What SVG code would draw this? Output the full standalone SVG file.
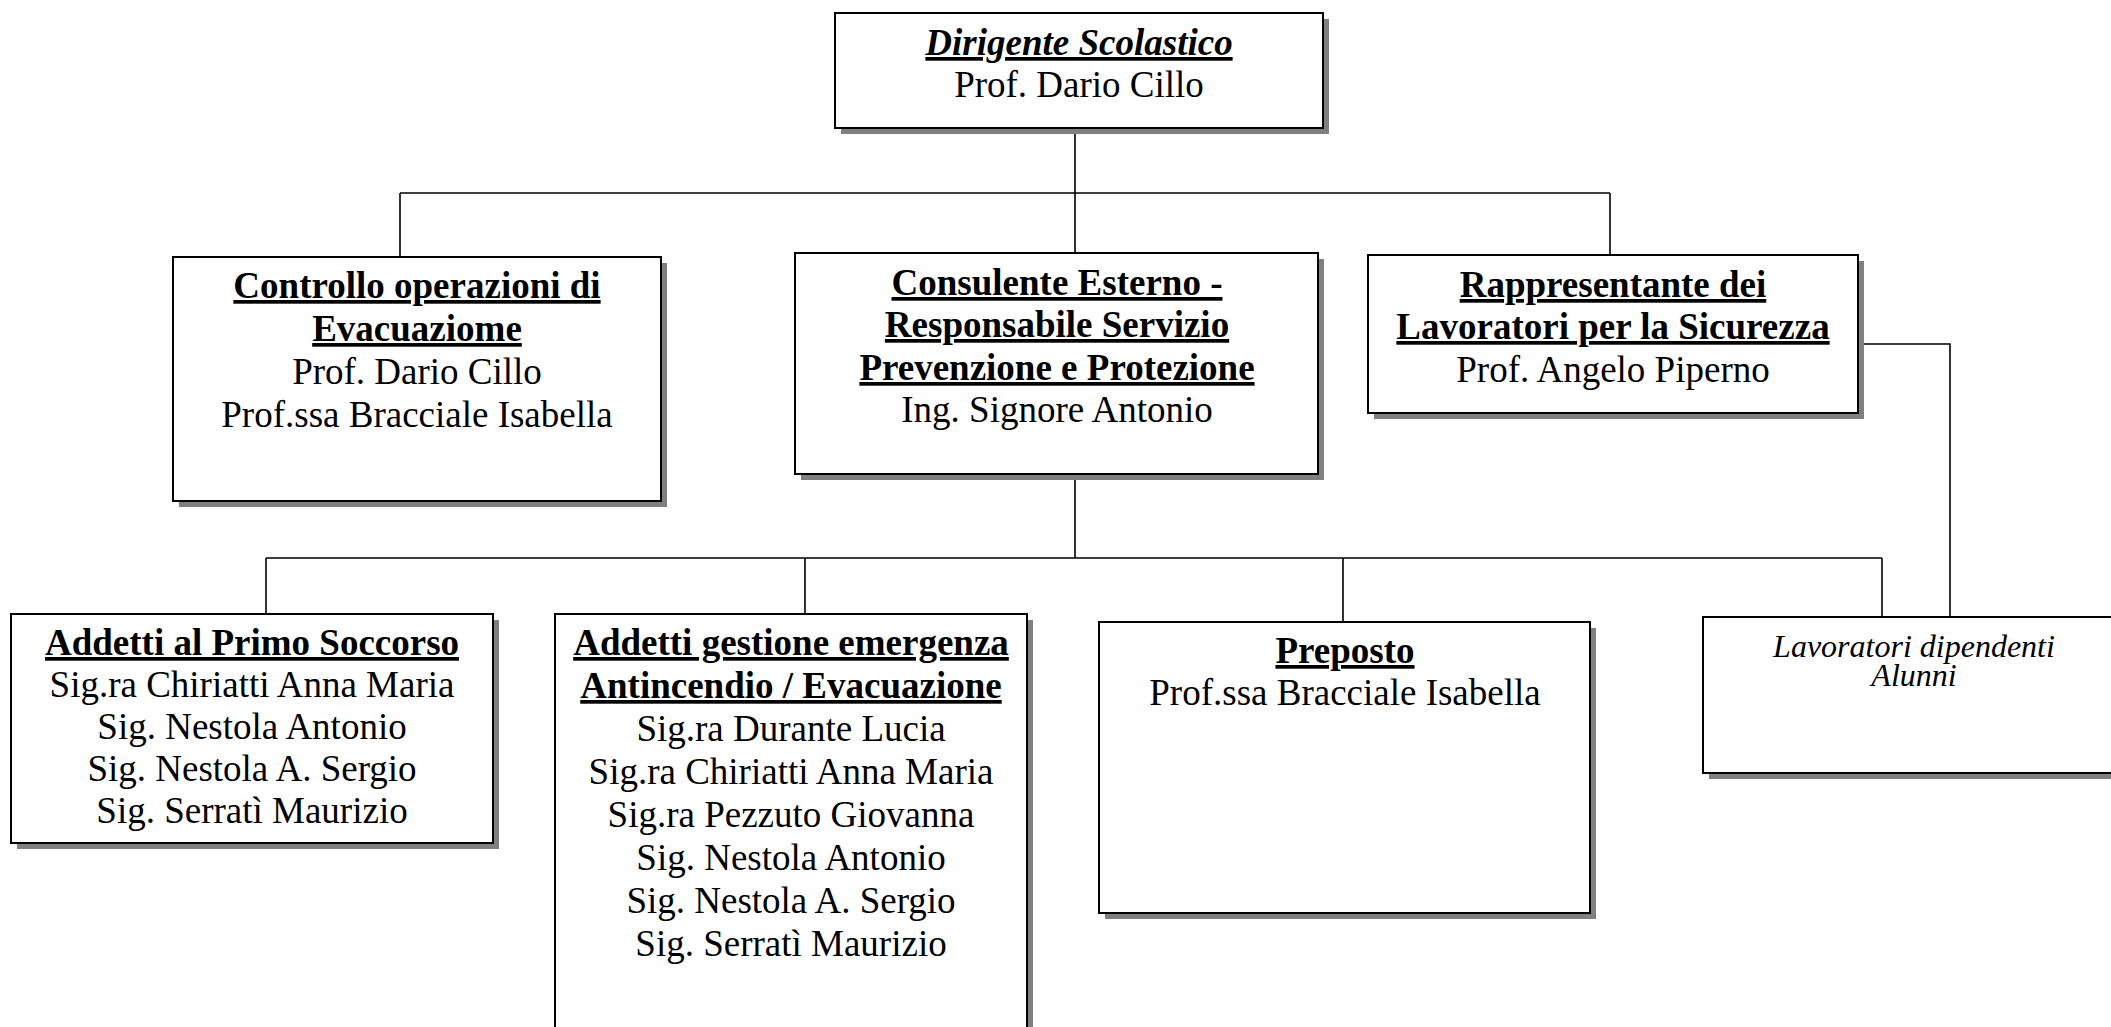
<svg xmlns="http://www.w3.org/2000/svg" width="2111" height="1027" viewBox="0 0 2111 1027">
<style>
.box{fill:#fff;stroke:#000;stroke-width:2}
.sh{fill:#808080}
.con{fill:none;stroke:#000;stroke-width:1.6}
text{font-family:"Liberation Serif","Times New Roman",serif;font-size:37px;fill:#000;text-anchor:middle}
.t{font-weight:bold;text-decoration:underline}
.ti{font-weight:bold;font-style:italic;text-decoration:underline}
.it{font-style:italic;font-size:32px}
</style>
<rect width="2111" height="1027" fill="#fff"/>
<g id="connectors">
<path class="con" d="M1075 128V193M400 193H1610M400 193V257M1075 193V253M1610 193V255"/>
<path class="con" d="M1075 474V558M266 558H1882M266 558V614M805 558V614M1343 558V622M1882 558V617"/>
<path class="con" d="M1858 344H1950V617"/>
</g>
<g id="dirigente">
<rect class="sh" x="841" y="19" width="488" height="115"/>
<rect class="box" x="835" y="13" width="488" height="115"/>
<text class="ti" x="1079" y="55">Dirigente Scolastico</text>
<text x="1079" y="97">Prof. Dario Cillo</text>
</g>
<g id="controllo">
<rect class="sh" x="179" y="263" width="488" height="244"/>
<rect class="box" x="173" y="257" width="488" height="244"/>
<text class="t" x="417" y="298">Controllo operazioni di</text>
<text class="t" x="417" y="341">Evacuaziome</text>
<text x="417" y="384">Prof. Dario Cillo</text>
<text x="417" y="427">Prof.ssa Bracciale Isabella</text>
</g>
<g id="consulente">
<rect class="sh" x="801" y="259" width="523" height="221"/>
<rect class="box" x="795" y="253" width="523" height="221"/>
<text class="t" x="1057" y="295">Consulente Esterno -</text>
<text class="t" x="1057" y="337">Responsabile Servizio</text>
<text class="t" x="1057" y="380">Prevenzione e Protezione</text>
<text x="1057" y="422">Ing. Signore Antonio</text>
</g>
<g id="rappresentante">
<rect class="sh" x="1374" y="261" width="490" height="158"/>
<rect class="box" x="1368" y="255" width="490" height="158"/>
<text class="t" x="1613" y="297">Rappresentante dei</text>
<text class="t" x="1613" y="339">Lavoratori per la Sicurezza</text>
<text x="1613" y="382">Prof. Angelo Piperno</text>
</g>
<g id="primo-soccorso">
<rect class="sh" x="17" y="620" width="482" height="229"/>
<rect class="box" x="11" y="614" width="482" height="229"/>
<text class="t" x="252" y="655">Addetti al Primo Soccorso</text>
<text x="252" y="697">Sig.ra Chiriatti Anna Maria</text>
<text x="252" y="739">Sig. Nestola Antonio</text>
<text x="252" y="781">Sig. Nestola A. Sergio</text>
<text x="252" y="823">Sig. Serratì Maurizio</text>
</g>
<g id="antincendio">
<rect class="sh" x="561" y="620" width="472" height="430"/>
<rect class="box" x="555" y="614" width="472" height="430"/>
<text class="t" x="791" y="655">Addetti gestione emergenza</text>
<text class="t" x="791" y="698">Antincendio / Evacuazione</text>
<text x="791" y="741">Sig.ra Durante Lucia</text>
<text x="791" y="784">Sig.ra Chiriatti Anna Maria</text>
<text x="791" y="827">Sig.ra Pezzuto Giovanna</text>
<text x="791" y="870">Sig. Nestola Antonio</text>
<text x="791" y="913">Sig. Nestola A. Sergio</text>
<text x="791" y="956">Sig. Serratì Maurizio</text>
</g>
<g id="preposto">
<rect class="sh" x="1105" y="628" width="491" height="291"/>
<rect class="box" x="1099" y="622" width="491" height="291"/>
<text class="t" x="1345" y="663">Preposto</text>
<text x="1345" y="705">Prof.ssa Bracciale Isabella</text>
</g>
<g id="lavoratori">
<rect class="sh" x="1709" y="623" width="422" height="156"/>
<rect class="box" x="1703" y="617" width="422" height="156"/>
<text class="it" x="1914" y="657">Lavoratori dipendenti</text>
<text class="it" x="1914" y="686">Alunni</text>
</g>
</svg>
